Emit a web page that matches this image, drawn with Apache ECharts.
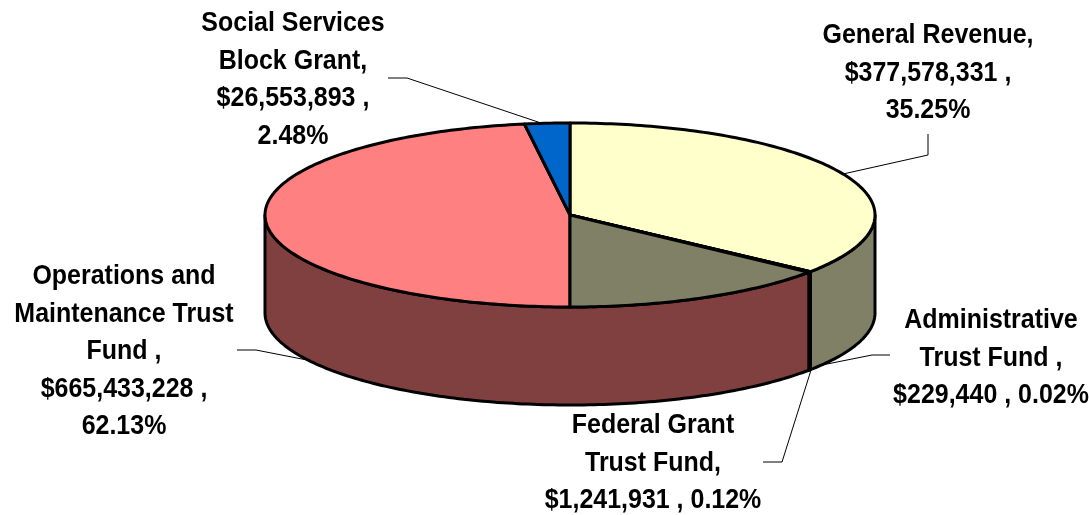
<!DOCTYPE html>
<html>
<head>
<meta charset="utf-8">
<style>html,body{margin:0;padding:0;background:#fff}#chart{width:1089px;height:515px}</style>
<script src="https://cdn.jsdelivr.net/npm/echarts@6/dist/echarts.min.js"></script>
</head>
<body>
<div id="chart"></div>
<script>
// Data
const categories = ['General Revenue', 'Administrative Trust Fund', 'Federal Grant Trust Fund', 'Operations and Maintenance Trust Fund', 'Social Services Block Grant'];
const amounts = [377578331, 229440, 1241931, 665433228, 26553893];
const labelTexts = [
  'General Revenue,\n$377,578,331 ,\n35.25%',
  'Administrative\nTrust Fund ,\n$229,440 , 0.02%',
  'Federal Grant\nTrust Fund,\n$1,241,931 , 0.12%',
  'Operations and\nMaintenance Trust\nFund ,\n$665,433,228 ,\n62.13%',
  'Social Services\nBlock Grant,\n$26,553,893 ,\n2.48%'
];
// Styles
const topColors = ['#FFFFCC', '#808066', '#808066', '#FF8080', '#0066CC'];
const wallColors = ['#808066', '#808066', '#808066', '#804040', '#003366'];
// Layout
const disc = { cx: 570, cy: 215, rx: 305, ry: 92, depth: 98, skew: 1.1 };
const shadedTopEndDeg = 180; // the front of the largest slice's top is painted in the neighbouring wall shade
const labelLayout = [
  { x: 928, y: 73 }, { x: 991, y: 358 }, { x: 653, y: 463 }, { x: 124, y: 351.5 }, { x: 293, y: 80 }
];
const leaderLayout = [
  [[928, 134], [928, 155], [843, 174]],
  [[890, 355], [872, 355], [812, 367]],
  [[763, 462], [782, 462], [812, 367]],
  [[237, 350], [256, 350], [307, 360]],
  [[388, 78], [407, 78], [541, 123]]
];

const total = amounts.reduce((a, b) => a + b, 0);
const bounds = [];
amounts.reduce((acc, v) => { bounds.push([acc / total * 360, (acc + v) / total * 360]); return acc + v; }, 0);

function pt(deg, dy) {
  const r = deg * Math.PI / 180;
  // slight perspective foreshortening of the projected angle
  const t = (deg - disc.skew * Math.sin(2 * r)) * Math.PI / 180;
  return [disc.cx + disc.rx * Math.sin(t), disc.cy - disc.ry * Math.cos(t) + (dy || 0)];
}
function arc(a, b, dy) {
  const n = Math.max(2, Math.ceil(Math.abs(b - a)));
  const out = [];
  for (let i = 0; i <= n; i++) out.push(pt(a + (b - a) * i / n, dy));
  return out;
}
function wedge(a, b, fill) {
  return {
    type: 'polygon',
    shape: { points: [[disc.cx, disc.cy]].concat(arc(a, b, 0)) },
    style: { fill: fill, stroke: '#000', lineWidth: 3, lineJoin: 'round' }
  };
}
function wall(a, b, fill) {
  const s = Math.max(a, 90), e = Math.min(b, 270);
  if (e <= s) return null;
  return {
    type: 'polygon',
    shape: { points: arc(s, e, 0).concat(arc(e, s, disc.depth)) },
    style: { fill: fill, stroke: '#000', lineWidth: 3, lineJoin: 'round' }
  };
}

const option = {
  animation: false,
  backgroundColor: '#fff',
  series: [
    { // leader lines
      type: 'custom', coordinateSystem: 'none', silent: true, z: 1,
      data: amounts,
      renderItem: (p) => ({
        type: 'polyline',
        shape: { points: leaderLayout[p.dataIndex] },
        style: { fill: 'none', stroke: '#000', lineWidth: 1 }
      })
    },
    { // side walls
      type: 'custom', coordinateSystem: 'none', silent: true, z: 2,
      data: amounts,
      renderItem: (p) => {
        const b = bounds[p.dataIndex];
        return wall(b[0], b[1], wallColors[p.dataIndex]) || { type: 'group', children: [] };
      }
    },
    { // top faces
      type: 'custom', coordinateSystem: 'none', silent: true, z: 3,
      data: amounts,
      renderItem: (p) => {
        const i = p.dataIndex, b = bounds[i];
        if (i === 3) {
          return { type: 'group', children: [
            wedge(shadedTopEndDeg, b[1], topColors[i]),
            wedge(b[0], shadedTopEndDeg, wallColors[0])
          ] };
        }
        return wedge(b[0], b[1], topColors[i]);
      }
    },
    { // data labels
      type: 'custom', coordinateSystem: 'none', silent: true, z: 4,
      data: amounts,
      renderItem: (p) => ({
        type: 'text',
        x: labelLayout[p.dataIndex].x,
        y: labelLayout[p.dataIndex].y,
        scaleX: 0.892,
        style: {
          text: labelTexts[p.dataIndex],
          fill: '#000',
          font: 'bold 28px "Liberation Sans", Arial, sans-serif',
          lineHeight: 37.5,
          textAlign: 'center',
          textVerticalAlign: 'middle'
        }
      })
    }
  ]
};
echarts.init(document.getElementById('chart'), null, { renderer: 'canvas' }).setOption(option);
</script>
</body>
</html>
